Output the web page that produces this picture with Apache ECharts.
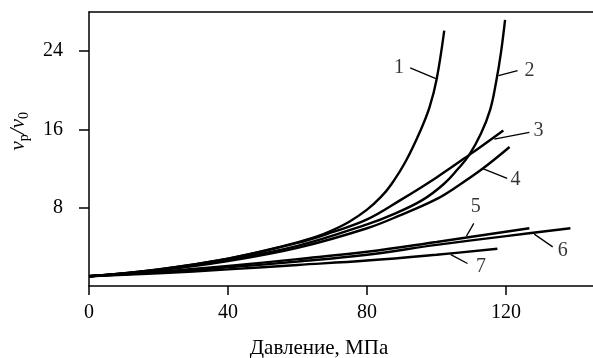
<!DOCTYPE html>
<html>
<head>
<meta charset="utf-8">
<script src="https://cdn.jsdelivr.net/npm/echarts@6/dist/echarts.min.js"></script>
<style>html,body{margin:0;padding:0;background:#fff}#c{width:593px;height:358px}</style>
</head>
<body>
<div id="c"></div>
<script>
// ---- data ----
const xTicks = [0, 40, 80, 120];
const yTicks = [8, 16, 24];
const curve1 = [[0,1],[20,1.7],[40,2.8],[55,4.0],[65,5.0],[70,5.7],[75,6.6],[80,7.8],[84,9.1],[87,10.4],[91.2,12.8],[95.5,16.0],[98,18.3],[100,21.1],[102.2,26.1]];
const curve2 = [[0,1],[20,1.65],[40,2.7],[60,4.1],[80,6.3],[88,7.4],[96,8.8],[102,10.4],[106,11.9],[109.4,13.4],[112.8,15.6],[115.4,18.0],[117.1,20.8],[118.5,23.8],[119.7,27.2]];
const curve3 = [[0,1],[20,1.7],[40,2.8],[60,4.4],[70,5.5],[80,6.8],[89.7,8.8],[100,11.1],[109.4,13.4],[119.2,15.9]];
const curve4 = [[0,1],[20,1.6],[40,2.55],[60,3.9],[80,5.9],[90,7.3],[99.8,8.85],[106,10.2],[113.3,12.0],[121,14.2]];
const curve5 = [[0,1],[20,1.45],[40,2.05],[60,2.75],[80,3.5],[100,4.5],[126.7,5.9]];
const curve6 = [[0,1],[20,1.4],[40,1.9],[60,2.5],[80,3.2],[100,4.2],[120,5.1],[138.5,5.9]];
const curve7 = [[0,1],[20,1.3],[40,1.7],[60,2.15],[80,2.6],[100,3.2],[117.5,3.8]];
const curves = [curve1, curve2, curve3, curve4, curve5, curve6, curve7];
const curveNames = ['1','2','3','4','5','6','7'];
// leader lines: [from, to] in data units
const leaders = [
  [[92.4,22.3],[99.8,21.2]],
  [[117.8,21.5],[123.3,22.0]],
  [[116.6,15.0],[126.7,15.7]],
  [[113.3,12.0],[120.3,11.0]],
  [[108.6,5.1],[110.7,6.4]],
  [[128.1,5.3],[133.4,4.0]],
  [[104.1,3.2],[108.9,2.3]]
];
// label anchor points in data units
const labelPoints = [[89.2,22.3],[126.7,22.0],[129.3,15.85],[122.7,10.9],[111.3,8.1],[136.3,3.6],[112.8,2.0]];
const xName = 'Давление, МПа';

const FONT = '"Liberation Serif", "DejaVu Serif", serif';
const chart = echarts.init(document.getElementById('c'), null, {renderer: 'canvas'});

const series = curves.map((d, i) => ({
  type: 'line', data: d, smooth: 0.4, showSymbol: false,
  lineStyle: {color: '#000', width: 2.4}, silent: true, z: 3
}));
series.push({
  type: 'lines', coordinateSystem: 'cartesian2d',
  data: leaders.map(l => ({coords: l})),
  lineStyle: {color: '#000', width: 1.3, opacity: 1}, silent: true, z: 3
});
series.push({
  type: 'scatter', symbolSize: 0,
  data: labelPoints.map((p, i) => ({value: p, label: {formatter: curveNames[i]}})),
  label: {show: true, position: 'inside', color: '#000', fontFamily: FONT, fontSize: 20},
  silent: true, z: 4
});

chart.setOption({
  animation: false,
  backgroundColor: '#fff',
  grid: {left: 89, right: 0, top: 12, bottom: 72, containLabel: false, outerBoundsMode: 'none'},
  xAxis: [{
    type: 'value', min: 0, max: 145,
    axisLine: {show: true, lineStyle: {color: '#000', width: 1.5}},
    axisTick: {show: true, inside: false, length: 9, customValues: xTicks, lineStyle: {color: '#000', width: 1.5}},
    axisLabel: {customValues: xTicks, color: '#000', fontFamily: FONT, fontSize: 20, margin: 17},
    splitLine: {show: false},
    name: xName, nameLocation: 'middle', nameGap: 52,
    nameTextStyle: {color: '#000', fontFamily: FONT, fontSize: 21, padding: [0, 0, 0, -44]}
  }, {
    type: 'value', min: 0, max: 145, position: 'top',
    axisLine: {show: true, onZero: false, lineStyle: {color: '#000', width: 1.5}},
    axisTick: {show: false}, axisLabel: {show: false}, splitLine: {show: false}
  }],
  yAxis: {
    type: 'value', min: 0, max: 28,
    axisLine: {show: true, lineStyle: {color: '#000', width: 1.5}},
    axisTick: {show: true, inside: false, length: 10, customValues: yTicks, lineStyle: {color: '#000', width: 1.5}},
    axisLabel: {customValues: yTicks, color: '#000', fontFamily: FONT, fontSize: 20, margin: 26},
    splitLine: {show: false}
  },
  graphic: [{
    type: 'text', left: 8, top: 112, rotation: Math.PI / 2,
    style: {
      text: '{n|ν}{s|p}{n|/ν}{s|0}',
      fill: '#000',
      rich: {
        n: {fontFamily: FONT, fontStyle: 'italic', fontSize: 21, lineHeight: 26, verticalAlign: 'middle', fill: '#000'},
        s: {fontFamily: FONT, fontSize: 14, lineHeight: 14, verticalAlign: 'bottom', fill: '#000'}
      }
    }
  }],
  series: series
});
</script>
</body>
</html>
